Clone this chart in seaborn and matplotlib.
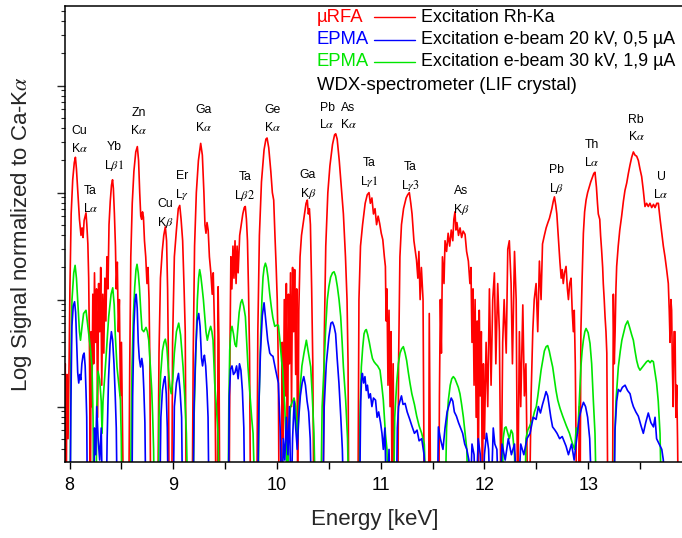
import numpy as np
import pandas as pd
import matplotlib
matplotlib.use("Agg")
import matplotlib.pyplot as plt
import seaborn as sns
from matplotlib.ticker import LogLocator, NullFormatter, MultipleLocator, FixedLocator
from matplotlib.lines import Line2D

# ---------------- data ----------------
# (energy in keV, log10 of signal normalised to Ca-Ka); -4.0 = below axis floor
red_points = [
(7.950,-3.0),(7.958,-2.6),(7.966,-4.0),(7.975,-2.7),(7.985,-3.3),(7.995,-2.6),(8.003,-1.9),(8.015,-1.2),(8.030,-0.88),(8.045,-0.72),(8.056,-0.67),(8.066,-0.78),(8.080,-1.00),(8.095,-1.25),(8.110,-1.40),(8.120,-1.33),(8.130,-1.42),(8.140,-1.26),(8.150,-1.22),(8.158,-1.19),(8.166,-1.30),(8.176,-1.48),(8.184,-1.80),(8.192,-2.50),(8.200,-4.0),(8.208,-2.3),(8.215,-3.0),(8.224,-1.95),(8.232,-2.6),(8.240,-1.75),(8.250,-2.4),(8.260,-1.90),(8.270,-3.1),(8.280,-1.85),(8.290,-2.3),(8.300,-1.70),(8.310,-2.8),(8.320,-1.95),(8.330,-2.5),(8.340,-1.80),(8.350,-2.2),(8.360,-1.60),(8.370,-1.90),(8.380,-1.30),(8.392,-1.08),(8.404,-0.93),(8.414,-0.88),(8.422,-0.96),(8.432,-1.20),(8.442,-1.50),(8.450,-1.90),(8.460,-1.65),(8.470,-2.3),(8.480,-2.0),(8.490,-2.9),(8.500,-2.4),(8.510,-3.2),(8.520,-4.0),(8.570,-4.0),(8.580,-2.6),(8.590,-1.6),(8.604,-1.10),(8.620,-0.80),(8.638,-0.62),(8.653,-0.57),(8.665,-0.70),(8.676,-1.00),(8.686,-1.22),(8.695,-1.25),(8.703,-1.18),(8.712,-1.23),(8.722,-1.45),(8.734,-1.60),(8.746,-1.85),(8.756,-1.70),(8.766,-2.0),(8.774,-2.6),(8.782,-4.0),(8.850,-4.0),(8.862,-2.5),(8.876,-1.80),(8.893,-1.55),(8.908,-1.40),(8.923,-1.32),(8.935,-1.45),(8.945,-1.90),(8.953,-2.6),(8.960,-4.0),(8.985,-4.0),(8.993,-2.4),(9.010,-1.60),(9.030,-1.35),(9.048,-1.15),(9.062,-1.12),(9.075,-1.25),(9.090,-1.45),(9.104,-1.90),(9.115,-2.3),(9.125,-4.0),(9.182,-4.0),(9.192,-2.5),(9.205,-1.50),(9.222,-1.00),(9.242,-0.70),(9.264,-0.54),(9.280,-0.65),(9.295,-1.00),(9.305,-1.30),(9.315,-1.38),(9.325,-1.28),(9.336,-1.35),(9.348,-1.60),(9.362,-1.75),(9.375,-1.95),(9.385,-1.75),(9.398,-2.3),(9.412,-4.0),(9.426,-4.0),(9.432,-1.88),(9.440,-2.4),(9.448,-4.0),(9.538,-4.0),(9.546,-2.5),(9.555,-1.60),(9.565,-1.90),(9.575,-1.50),(9.585,-1.80),(9.595,-1.45),(9.605,-1.85),(9.615,-1.50),(9.625,-1.75),(9.640,-1.40),(9.655,-1.30),(9.670,-1.20),(9.684,-1.14),(9.694,-1.13),(9.705,-1.25),(9.715,-1.45),(9.725,-1.90),(9.735,-2.5),(9.745,-4.0),(9.805,-4.0),(9.815,-2.3),(9.830,-1.40),(9.850,-0.90),(9.875,-0.60),(9.893,-0.50),(9.904,-0.49),(9.920,-0.58),(9.940,-0.80),(9.955,-1.00),(9.968,-1.07),(9.980,-1.40),(9.992,-1.70),(10.002,-2.0),(10.012,-2.6),(10.020,-4.0),(10.040,-4.0),(10.050,-2.4),(10.060,-3.3),(10.070,-2.0),(10.080,-2.9),(10.090,-1.85),(10.100,-4.0),(10.110,-1.95),(10.120,-2.6),(10.130,-1.75),(10.140,-3.0),(10.150,-1.70),(10.160,-2.3),(10.170,-1.72),(10.180,-2.7),(10.190,-1.90),(10.200,-4.0),(10.210,-2.1),(10.222,-1.60),(10.236,-1.40),(10.250,-1.30),(10.265,-1.20),(10.280,-1.10),(10.292,-1.07),(10.302,-1.20),(10.312,-1.15),(10.322,-1.30),(10.334,-1.90),(10.345,-2.6),(10.355,-4.0),(10.445,-4.0),(10.455,-2.4),(10.470,-1.50),(10.490,-1.00),(10.510,-0.75),(10.535,-0.55),(10.555,-0.46),(10.566,-0.45),(10.580,-0.50),(10.600,-0.70),(10.620,-0.95),(10.640,-1.20),(10.660,-1.60),(10.675,-2.0),(10.685,-2.6),(10.692,-4.0),(10.780,-4.0),(10.790,-2.0),(10.805,-1.50),(10.825,-1.30),(10.850,-1.10),(10.870,-1.02),(10.887,-1.00),(10.900,-1.10),(10.915,-1.05),(10.930,-1.20),(10.945,-1.15),(10.960,-1.30),(10.975,-1.22),(10.990,-1.29),(11.005,-1.38),(11.020,-1.44),(11.035,-1.60),(11.045,-1.69),(11.052,-2.2),(11.060,-1.90),(11.070,-2.8),(11.080,-2.1),(11.090,-3.0),(11.100,-2.3),(11.110,-4.0),(11.120,-2.6),(11.130,-4.0),(11.165,-4.0),(11.172,-2.6),(11.185,-1.60),(11.200,-1.30),(11.220,-1.15),(11.245,-1.05),(11.260,-1.02),(11.276,-1.00),(11.290,-1.10),(11.302,-1.20),(11.320,-1.45),(11.345,-1.63),(11.358,-1.80),(11.368,-1.55),(11.380,-2.0),(11.392,-1.70),(11.408,-2.0),(11.420,-4.0),(11.462,-4.0),(11.468,-2.13),(11.475,-3.1),(11.482,-4.0),(11.560,-4.0),(11.566,-2.9),(11.575,-2.0),(11.585,-2.5),(11.595,-1.60),(11.610,-1.85),(11.620,-1.45),(11.635,-1.55),(11.650,-1.38),(11.665,-1.50),(11.680,-1.35),(11.695,-1.45),(11.705,-1.25),(11.716,-1.18),(11.725,-1.35),(11.735,-1.28),(11.750,-1.40),(11.765,-1.33),(11.780,-1.42),(11.795,-1.36),(11.813,-1.39),(11.828,-1.55),(11.845,-1.64),(11.860,-1.85),(11.870,-1.70),(11.880,-2.4),(11.890,-1.90),(11.900,-2.8),(11.910,-2.0),(11.920,-3.1),(11.930,-2.2),(11.940,-4.0),(11.950,-2.1),(11.960,-2.9),(11.970,-2.3),(11.980,-4.0),(11.990,-2.6),(12.000,-3.3),(12.016,-2.4),(12.032,-3.0),(12.048,-1.90),(12.064,-2.8),(12.080,-2.0),(12.096,-1.75),(12.110,-2.6),(12.128,-1.85),(12.144,-2.3),(12.160,-4.0),(12.176,-2.4),(12.190,-2.0),(12.210,-2.5),(12.225,-1.53),(12.240,-1.45),(12.257,-1.85),(12.270,-2.6),(12.290,-1.55),(12.306,-2.0),(12.320,-4.0),(12.337,-2.3),(12.350,-3.0),(12.370,-2.05),(12.385,-2.9),(12.400,-2.6),(12.418,-4.0),(12.434,-4.0),(12.450,-2.9),(12.466,-2.3),(12.480,-2.0),(12.498,-1.85),(12.514,-2.3),(12.530,-1.64),(12.546,-2.0),(12.560,-1.48),(12.578,-1.40),(12.595,-1.33),(12.612,-1.28),(12.627,-1.24),(12.650,-1.15),(12.664,-1.08),(12.675,-1.04),(12.688,-1.12),(12.698,-1.20),(12.708,-1.35),(12.717,-1.48),(12.728,-1.65),(12.740,-1.80),(12.750,-1.72),(12.760,-1.85),(12.772,-1.75),(12.787,-1.69),(12.800,-1.90),(12.810,-2.0),(12.822,-1.85),(12.835,-1.80),(12.846,-2.1),(12.857,-2.3),(12.866,-2.1),(12.876,-2.6),(12.890,-4.0),(12.905,-4.0),(12.915,-3.0),(12.922,-4.0),(12.930,-2.3),(12.942,-1.80),(12.954,-1.38),(12.966,-1.18),(12.980,-1.07),(12.995,-1.00),(13.010,-0.95),(13.025,-0.90),(13.040,-0.86),(13.055,-0.82),(13.066,-0.81),(13.080,-0.95),(13.090,-1.10),(13.098,-1.20),(13.112,-1.25),(13.120,-1.40),(13.130,-1.54),(13.140,-1.70),(13.146,-1.85),(13.155,-2.0),(13.163,-2.16),(13.172,-2.3),(13.180,-2.5),(13.190,-4.0),(13.235,-4.0),(13.243,-1.95),(13.252,-2.6),(13.260,-2.3),(13.268,-1.90),(13.275,-1.69),(13.290,-1.50),(13.305,-1.35),(13.323,-1.22),(13.340,-1.08),(13.355,-0.98),(13.372,-0.91),(13.388,-0.82),(13.404,-0.74),(13.420,-0.67),(13.436,-0.62),(13.452,-0.65),(13.468,-0.66),(13.484,-0.70),(13.500,-0.78),(13.516,-0.85),(13.532,-0.98),(13.548,-1.13),(13.564,-1.10),(13.580,-1.13),(13.596,-1.10),(13.613,-1.14),(13.630,-1.11),(13.645,-1.14),(13.662,-1.10),(13.677,-1.10),(13.694,-1.25),(13.710,-1.38),(13.725,-1.50),(13.741,-1.60),(13.757,-1.72),(13.773,-1.85),(13.782,-2.1),(13.790,-2.4),(13.798,-2.0),(13.805,-2.1),(13.812,-2.6),(13.820,-3.0),(13.828,-2.3),(13.838,-2.3),(13.846,-3.1),(13.854,-2.8),(13.862,-3.3),(13.870,-4.0),(13.910,-4.0),
]

green_points = [
(7.950,-4.0),(8.005,-4.0),(8.012,-2.6),(8.023,-2.0),(8.040,-1.75),(8.053,-1.68),(8.066,-1.80),(8.080,-2.05),(8.095,-2.30),(8.105,-2.38),(8.120,-2.25),(8.135,-2.13),(8.158,-2.10),(8.170,-2.20),(8.184,-2.32),(8.200,-2.45),(8.216,-2.63),(8.226,-3.1),(8.232,-4.0),(8.255,-4.0),(8.262,-3.0),(8.274,-2.67),(8.290,-2.75),(8.305,-2.95),(8.313,-3.25),(8.322,-2.95),(8.345,-2.63),(8.377,-2.16),(8.400,-1.95),(8.416,-1.89),(8.430,-2.05),(8.440,-2.32),(8.457,-2.63),(8.475,-2.80),(8.490,-2.94),(8.498,-3.3),(8.505,-4.0),(8.586,-4.0),(8.595,-3.1),(8.602,-2.63),(8.615,-2.15),(8.628,-1.88),(8.640,-1.72),(8.650,-1.67),(8.662,-1.75),(8.673,-1.88),(8.686,-2.10),(8.698,-2.28),(8.715,-2.30),(8.737,-2.26),(8.750,-2.30),(8.763,-2.38),(8.779,-2.63),(8.792,-2.85),(8.801,-3.09),(8.810,-3.4),(8.817,-4.0),(8.855,-4.0),(8.862,-3.1),(8.878,-2.70),(8.895,-2.48),(8.910,-2.40),(8.923,-2.37),(8.938,-2.45),(8.952,-2.65),(8.968,-2.82),(8.980,-2.88),(8.995,-2.75),(9.010,-2.50),(9.030,-2.30),(9.052,-2.22),(9.070,-2.33),(9.094,-2.63),(9.110,-2.90),(9.126,-3.25),(9.142,-4.0),(9.190,-4.0),(9.200,-3.1),(9.213,-2.63),(9.232,-2.0),(9.244,-1.80),(9.254,-1.72),(9.265,-1.78),(9.277,-1.88),(9.290,-2.0),(9.303,-2.16),(9.315,-2.30),(9.328,-2.38),(9.345,-2.30),(9.360,-2.25),(9.372,-2.30),(9.383,-2.38),(9.399,-2.78),(9.415,-3.0),(9.431,-3.25),(9.447,-4.0),(9.528,-4.0),(9.535,-3.0),(9.544,-2.47),(9.555,-2.30),(9.566,-2.25),(9.580,-2.32),(9.595,-2.42),(9.608,-2.44),(9.620,-2.30),(9.635,-2.12),(9.650,-2.03),(9.663,-2.00),(9.678,-2.06),(9.695,-2.16),(9.708,-2.40),(9.720,-2.63),(9.740,-2.90),(9.755,-3.10),(9.769,-3.25),(9.790,-4.0),(9.817,-4.0),(9.828,-2.9),(9.843,-2.32),(9.855,-1.98),(9.865,-1.79),(9.876,-1.70),(9.888,-1.66),(9.900,-1.70),(9.913,-1.79),(9.930,-1.95),(9.945,-2.07),(9.960,-2.17),(9.978,-2.25),(9.995,-2.24),(10.013,-2.24),(10.030,-2.40),(10.045,-2.58),(10.055,-2.66),(10.075,-3.0),(10.090,-3.4),(10.098,-4.0),(10.110,-3.3),(10.130,-3.0),(10.150,-2.95),(10.164,-2.92),(10.180,-3.0),(10.198,-3.3),(10.212,-3.0),(10.225,-2.80),(10.240,-2.62),(10.260,-2.50),(10.283,-2.38),(10.300,-2.48),(10.325,-2.63),(10.340,-2.90),(10.356,-3.25),(10.373,-4.0),(10.421,-4.0),(10.435,-3.0),(10.453,-2.63),(10.470,-2.25),(10.485,-2.0),(10.500,-1.88),(10.517,-1.79),(10.535,-1.75),(10.550,-1.74),(10.565,-1.78),(10.582,-1.88),(10.598,-2.0),(10.614,-2.16),(10.628,-2.40),(10.640,-2.63),(10.662,-2.94),(10.680,-3.3),(10.694,-4.0),(10.791,-4.0),(10.800,-3.1),(10.813,-2.63),(10.826,-2.45),(10.839,-2.32),(10.850,-2.29),(10.861,-2.28),(10.875,-2.33),(10.890,-2.40),(10.903,-2.47),(10.920,-2.55),(10.935,-2.58),(10.951,-2.60),(10.970,-2.62),(10.993,-2.66),(11.010,-2.80),(11.025,-2.94),(11.045,-3.25),(11.060,-3.4),(11.073,-4.0),(11.122,-4.0),(11.135,-3.1),(11.154,-2.78),(11.170,-2.60),(11.186,-2.50),(11.202,-2.46),(11.218,-2.44),(11.235,-2.50),(11.250,-2.57),(11.266,-2.68),(11.282,-2.78),(11.300,-2.88),(11.325,-2.98),(11.347,-3.09),(11.370,-3.18),(11.395,-3.25),(11.420,-3.35),(11.443,-4.0),(11.620,-4.0),(11.635,-3.2),(11.652,-2.94),(11.670,-2.80),(11.685,-2.74),(11.700,-2.72),(11.716,-2.74),(11.732,-2.78),(11.748,-2.82),(11.764,-2.88),(11.780,-2.98),(11.797,-3.1),(11.813,-3.25),(11.830,-3.4),(11.845,-4.0),(12.170,-4.0),(12.180,-3.3),(12.195,-3.2),(12.208,-3.19),(12.225,-3.25),(12.240,-3.30),(12.258,-3.22),(12.272,-3.25),(12.290,-3.45),(12.305,-4.0),(12.390,-4.0),(12.400,-3.30),(12.418,-3.22),(12.433,-3.19),(12.450,-3.15),(12.465,-3.12),(12.482,-3.05),(12.500,-3.00),(12.515,-2.90),(12.530,-2.78),(12.546,-2.66),(12.562,-2.57),(12.578,-2.48),(12.595,-2.44),(12.610,-2.43),(12.625,-2.48),(12.642,-2.56),(12.658,-2.63),(12.675,-2.75),(12.690,-2.85),(12.707,-2.94),(12.730,-3.02),(12.755,-3.09),(12.790,-3.18),(12.820,-3.25),(12.850,-3.35),(12.870,-3.40),(12.885,-3.2),(12.900,-3.25),(12.915,-2.95),(12.930,-2.63),(12.942,-2.48),(12.954,-2.38),(12.968,-2.30),(12.980,-2.27),(13.000,-2.31),(13.018,-2.41),(13.034,-2.60),(13.050,-2.94),(13.066,-3.25),(13.082,-4.0),(13.243,-4.0),(13.256,-3.3),(13.269,-2.94),(13.280,-2.78),(13.291,-2.63),(13.310,-2.48),(13.325,-2.38),(13.340,-2.32),(13.360,-2.24),(13.381,-2.20),(13.400,-2.26),(13.420,-2.33),(13.436,-2.38),(13.452,-2.48),(13.468,-2.57),(13.484,-2.63),(13.500,-2.66),(13.516,-2.64),(13.532,-2.62),(13.548,-2.60),(13.564,-2.58),(13.580,-2.57),(13.598,-2.59),(13.613,-2.57),(13.629,-2.58),(13.645,-2.68),(13.660,-2.78),(13.676,-2.95),(13.693,-3.25),(13.709,-4.0),(13.910,-4.0),
]

blue_points = [
(7.950,-4.0),(8.005,-4.0),(8.012,-3.0),(8.022,-2.25),(8.035,-2.06),(8.048,-2.02),(8.058,-2.12),(8.068,-2.40),(8.078,-2.68),(8.088,-2.78),(8.098,-2.70),(8.108,-2.75),(8.118,-2.60),(8.130,-2.52),(8.140,-2.50),(8.150,-2.62),(8.158,-2.85),(8.165,-3.1),(8.172,-4.0),(8.232,-4.0),(8.240,-3.2),(8.252,-3.45),(8.262,-3.0),(8.275,-3.3),(8.290,-3.5),(8.305,-3.2),(8.318,-4.0),(8.352,-4.0),(8.362,-3.3),(8.375,-2.75),(8.390,-2.42),(8.403,-2.30),(8.415,-2.38),(8.428,-2.60),(8.440,-2.90),(8.450,-3.2),(8.460,-4.0),(8.600,-4.0),(8.608,-2.9),(8.620,-2.25),(8.632,-2.0),(8.642,-1.95),(8.652,-2.08),(8.662,-2.40),(8.672,-2.55),(8.684,-2.63),(8.696,-2.55),(8.706,-2.62),(8.716,-2.85),(8.726,-3.15),(8.736,-4.0),(8.868,-4.0),(8.880,-3.1),(8.895,-2.85),(8.910,-2.75),(8.920,-2.72),(8.932,-2.88),(8.942,-3.2),(8.952,-4.0),(8.998,-4.0),(9.010,-3.0),(9.030,-2.78),(9.050,-2.69),(9.065,-2.85),(9.080,-3.1),(9.090,-4.0),(9.190,-4.0),(9.200,-3.0),(9.215,-2.50),(9.230,-2.20),(9.245,-2.13),(9.258,-2.25),(9.272,-2.55),(9.282,-2.62),(9.292,-2.55),(9.300,-2.52),(9.312,-2.62),(9.325,-2.85),(9.335,-3.1),(9.345,-4.0),(9.530,-4.0),(9.540,-2.9),(9.552,-2.65),(9.566,-2.62),(9.580,-2.70),(9.595,-2.68),(9.610,-2.62),(9.625,-2.74),(9.638,-2.60),(9.652,-2.66),(9.666,-2.85),(9.680,-3.2),(9.690,-4.0),(9.812,-4.0),(9.825,-3.0),(9.840,-2.50),(9.858,-2.15),(9.875,-2.03),(9.890,-2.18),(9.910,-2.38),(9.930,-2.50),(9.945,-2.52),(9.961,-2.53),(9.985,-2.65),(10.013,-2.78),(10.030,-3.2),(10.048,-4.0),(10.060,-3.3),(10.075,-3.5),(10.090,-3.1),(10.105,-3.45),(10.120,-3.0),(10.135,-4.0),(10.150,-3.3),(10.165,-2.95),(10.180,-3.2),(10.195,-3.4),(10.210,-3.1),(10.225,-2.90),(10.242,-2.78),(10.258,-2.72),(10.274,-2.80),(10.290,-2.95),(10.305,-3.05),(10.320,-3.3),(10.335,-4.0),(10.440,-4.0),(10.455,-3.0),(10.475,-2.60),(10.500,-2.35),(10.520,-2.22),(10.535,-2.21),(10.550,-2.25),(10.565,-2.32),(10.580,-2.55),(10.597,-2.78),(10.615,-3.10),(10.630,-3.40),(10.645,-4.0),(10.795,-4.0),(10.807,-2.95),(10.815,-2.75),(10.823,-2.69),(10.835,-2.78),(10.848,-2.72),(10.860,-2.85),(10.872,-2.80),(10.885,-2.92),(10.900,-2.88),(10.915,-3.0),(10.930,-2.92),(10.950,-2.94),(10.965,-3.1),(10.980,-3.05),(10.998,-3.15),(11.012,-3.25),(11.025,-3.40),(11.040,-3.2),(11.057,-4.0),(11.080,-3.4),(11.095,-4.0),(11.150,-4.0),(11.160,-3.2),(11.172,-3.0),(11.185,-2.95),(11.200,-2.90),(11.215,-2.98),(11.235,-2.97),(11.255,-3.05),(11.280,-3.12),(11.300,-3.18),(11.325,-3.25),(11.350,-3.22),(11.370,-3.32),(11.395,-3.30),(11.418,-3.45),(11.440,-4.0),(11.545,-4.0),(11.556,-3.19),(11.575,-3.3),(11.600,-3.40),(11.620,-3.2),(11.640,-3.05),(11.660,-2.98),(11.680,-2.92),(11.695,-2.95),(11.710,-3.05),(11.730,-3.09),(11.750,-3.15),(11.770,-3.20),(11.790,-3.25),(11.810,-3.35),(11.830,-3.40),(11.850,-3.5),(11.860,-4.0),(11.880,-3.35),(11.900,-3.45),(11.915,-4.0),(11.940,-3.3),(11.960,-3.45),(11.980,-4.0),(12.000,-3.45),(12.020,-3.25),(12.040,-3.40),(12.060,-4.0),(12.085,-3.2),(12.100,-3.35),(12.120,-3.4),(12.140,-4.0),(12.170,-3.35),(12.200,-3.5),(12.230,-3.3),(12.260,-3.45),(12.290,-3.35),(12.320,-4.0),(12.350,-3.35),(12.380,-3.45),(12.410,-3.3),(12.440,-3.25),(12.470,-3.1),(12.498,-3.12),(12.520,-3.0),(12.540,-3.06),(12.560,-2.98),(12.578,-2.92),(12.594,-2.86),(12.610,-2.90),(12.625,-3.0),(12.640,-3.1),(12.657,-3.19),(12.680,-3.22),(12.700,-3.25),(12.725,-3.30),(12.750,-3.28),(12.787,-3.37),(12.810,-3.45),(12.840,-3.35),(12.865,-3.5),(12.890,-3.3),(12.915,-3.10),(12.935,-3.02),(12.955,-2.96),(12.975,-3.0),(12.995,-3.1),(13.015,-3.3),(13.040,-4.0),(13.250,-4.0),(13.259,-3.22),(13.275,-2.95),(13.291,-2.84),(13.310,-2.86),(13.330,-2.82),(13.356,-2.80),(13.380,-2.85),(13.404,-2.88),(13.420,-2.95),(13.436,-3.00),(13.460,-3.05),(13.484,-3.09),(13.510,-3.18),(13.532,-3.25),(13.555,-3.15),(13.580,-3.06),(13.605,-3.15),(13.630,-3.19),(13.645,-3.10),(13.660,-3.30),(13.685,-3.35),(13.710,-3.40),(13.725,-3.5),(13.740,-4.0),(13.910,-4.0),
]

peak_labels = ["Cu\nK$\\alpha$", "Ta\nL$\\alpha$", "Yb\nL$\\beta1$", "Zn\nK$\\alpha$", "Cu\nK$\\beta$",
               "Er\nL$\\gamma$", "Ga\nK$\\alpha$", "Ta\nL$\\beta2$", "Ge\nK$\\alpha$", "Ga\nK$\\beta$",
               "Pb\nL$\\alpha$", "As\nK$\\alpha$", "Ta\nL$\\gamma1$", "Ta\nL$\\gamma3$", "As\nK$\\beta$",
               "Pb\nL$\\beta$", "Th\nL$\\alpha$", "Rb\nK$\\alpha$", "U\nL$\\alpha$"]
peak_label_energy = [8.096, 8.202, 8.428, 8.663, 8.923, 9.082, 9.292, 9.690, 9.959, 10.299,
                     10.483, 10.689, 10.886, 11.284, 11.775, 12.698, 13.034, 13.461, 13.705]
peak_label_log = [-0.51, -1.07, -0.67, -0.34, -1.20, -0.94, -0.31, -0.95, -0.31, -0.93,
                  -0.29, -0.29, -0.82, -0.85, -1.08, -0.88, -0.64, -0.40, -0.94]

series_names = ["µRFA", "EPMA", "EPMA"]
series_desc = ["Excitation Rh-Ka", "Excitation e-beam 20 kV, 0,5 µA", "Excitation e-beam 30 kV, 1,9 µA"]
series_colors = ["#ff0000", "#0000ff", "#00e600"]
legend_note = "WDX-spectrometer (LIF crystal)"

# ---------------- build tables ----------------
def to_df(points, name):
    e, l = zip(*points)
    return pd.DataFrame({"energy": np.array(e), "signal": 10.0 ** np.array(l), "series": name})

df_red = to_df(red_points, "red")
df_green = to_df(green_points, "green")
df_blue = to_df(blue_points, "blue")

# ---------------- plotting ----------------
sns.set_style("ticks")
plt.rcParams["font.family"] = ["Liberation Sans", "DejaVu Sans"]
plt.rcParams["mathtext.fontset"] = "stix"

W, H = 682, 538
fig = plt.figure(figsize=(W / 100, H / 100), dpi=100)
fig.patch.set_facecolor("white")
ax = fig.add_axes([65 / W, 76 / H, 617 / W, 456 / H])
ax.set_yscale("log")

lw = 1.2
sns.lineplot(data=df_red, x="energy", y="signal", color=series_colors[0], lw=lw,
             estimator=None, sort=False, ax=ax)
sns.lineplot(data=df_green, x="energy", y="signal", color=series_colors[2], lw=lw,
             estimator=None, sort=False, ax=ax)
sns.lineplot(data=df_blue, x="energy", y="signal", color=series_colors[1], lw=lw,
             estimator=None, sort=False, ax=ax)

ax.set_xlim(7.9556, 13.905)
ax.set_ylim(10 ** -3.518, 10 ** 0.744)

ax.xaxis.set_major_locator(FixedLocator([8, 9, 10, 11, 12, 13]))
ax.xaxis.set_minor_locator(MultipleLocator(0.5))
ax.yaxis.set_major_locator(LogLocator(base=10, numticks=12))
ax.yaxis.set_minor_locator(LogLocator(base=10, subs=np.arange(2, 10), numticks=12))
ax.yaxis.set_major_formatter(NullFormatter())
ax.yaxis.set_minor_formatter(NullFormatter())
ax.tick_params(axis="x", which="both", direction="out", length=5, width=1.0,
               labelsize=13, pad=6, colors="black")
ax.tick_params(axis="y", which="major", direction="out", length=6, width=1.0)
ax.tick_params(axis="y", which="minor", direction="out", length=3, width=0.8)

for side in ["left", "bottom", "top"]:
    ax.spines[side].set_linewidth(1.1)
    ax.spines[side].set_color("black")
ax.spines["right"].set_visible(False)

ax.set_xlabel("Energy [keV]", fontsize=16)
ax.set_ylabel("Log Signal normalized to Ca-K$\\alpha$", fontsize=16)
ax.xaxis.set_label_coords(0.502, -0.103)
ax.yaxis.set_label_coords(-0.05, 0.5)

for lab, e, lg in zip(peak_labels, peak_label_energy, peak_label_log):
    ax.text(e, 10 ** lg, lab, ha="center", va="center", fontsize=8.8,
            linespacing=1.45, color="black")

# legend block (figure coordinates)
rows_y = [17, 40, 62]
for name, desc, col, yy in zip(series_names, series_desc, series_colors, rows_y):
    yf = 1 - yy / H
    fig.text(317 / W, yf, name, color=col, fontsize=13.3, va="center", ha="left")
    fig.add_artist(Line2D([374 / W, 415 / W], [yf, yf], color=col, lw=1.0))
    fig.text(421 / W, yf, desc, color="black", fontsize=12.9, va="center", ha="left")
fig.text(317 / W, 1 - 85 / H, legend_note, color="black", fontsize=13.3, va="center", ha="left")

fig.savefig("out.png", dpi=100, facecolor="white")
